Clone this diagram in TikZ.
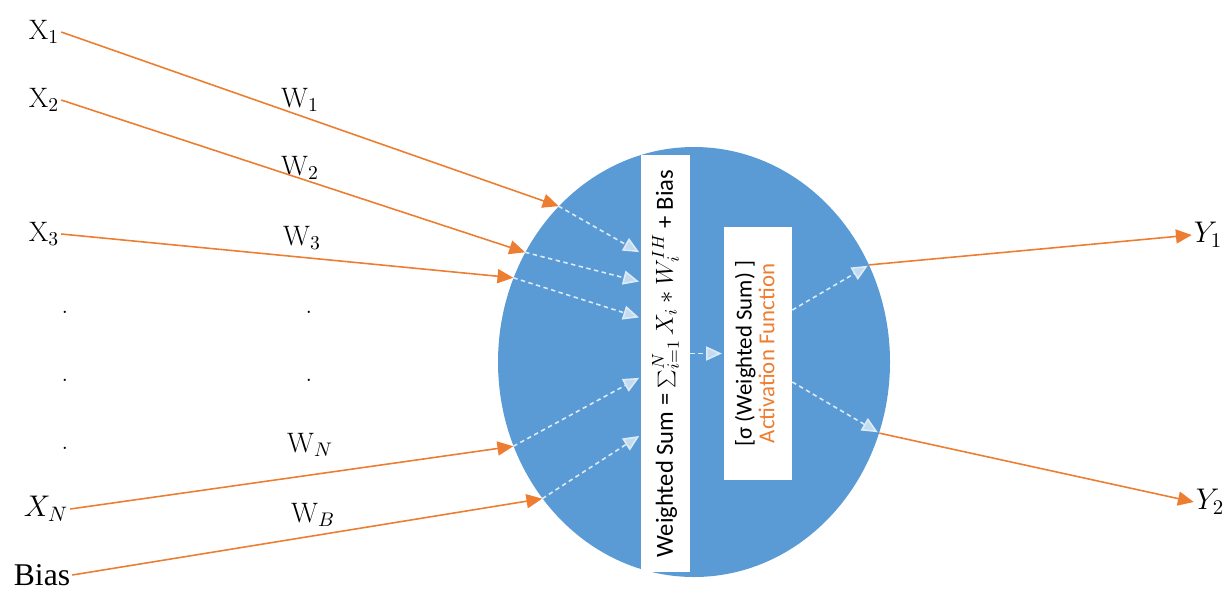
\RequirePackage{fix-cm}
\documentclass[tikz,border=0pt]{standalone}
\usepackage{fontspec}
\setsansfont{Carlito}
\newfontfamily\biasfont{Liberation Serif}
\usetikzlibrary{arrows.meta,calc,shapes.geometric}

\definecolor{neuronblue}{HTML}{5B9BD5}
\definecolor{wireorange}{HTML}{ED7D31}
\definecolor{flowwhite}{HTML}{DDEBF7}

\tikzset{
  wire/.style={draw=wireorange, line width=0.9pt,
    -{Triangle[length=9pt,width=8pt]}},
  flow/.style={draw=flowwhite, line width=0.9pt, dash pattern=on 2.5pt off 2pt,
    -{Triangle[length=9pt,width=8pt,fill=flowwhite!80!neuronblue]}, shorten >=1pt},
  whitebox/.style={fill=white, inner sep=0pt},
  inlabel/.style={inner sep=1pt, font=\fontsize{16}{18}\selectfont},
  biglabel/.style={inner sep=1pt, font=\fontsize{17}{19}\selectfont},
}

\begin{document}
\begin{tikzpicture}
\useasboundingbox (0,0) rectangle (24.46,-11.8);

% neuron body
\node[ellipse, fill=neuronblue, minimum width=7.84cm, minimum height=8.6cm, inner sep=0pt]
  (neuron) at (13.88,-7.24) {};

% inputs
\node[inlabel] (x1) at (0.88,-0.64) {$\mathrm{X}_1$};
\node[inlabel] (x2) at (0.88,-2.0) {$\mathrm{X}_2$};
\node[inlabel] (x3) at (0.88,-4.68) {$\mathrm{X}_3$};
\node[biglabel] (xn) at (0.92,-10.18) {$X_N$};
\node[inlabel, font=\biasfont\fontsize{18}{20}\selectfont] (bias) at (0.84,-11.5) {Bias};
\foreach \y in {-6.24,-7.6,-8.96}
  \node[inlabel] at (1.3,\y) {.};

% weights
\node[inlabel] (w1) at (6.0,-2.0) {$\mathrm{W}_1$};
\node[inlabel] (w2) at (6.0,-3.36) {$\mathrm{W}_2$};
\node[inlabel] (w3) at (6.04,-4.76) {$\mathrm{W}_3$};
\node[inlabel] (wn) at (6.2,-8.9) {$\mathrm{W}_N$};
\node[inlabel] (wb) at (6.26,-10.3) {$\mathrm{W}_B$};
\foreach \y in {-6.24,-7.6}
  \node[inlabel] at (6.18,\y) {.};

% outputs
\node[biglabel] (y1) at (24.16,-4.7) {$Y_1$};
\node[biglabel] (y2) at (24.2,-10.04) {$Y_2$};

% points on the rim
\coordinate (in1) at (neuron.131);
\coordinate (in2) at (neuron.147.5);
\coordinate (in3) at (neuron.155);
\coordinate (inn) at (neuron.205.5);
\coordinate (inb) at (neuron.222);
\coordinate (out1) at (neuron.29);
\coordinate (out2) at (neuron.339);

\draw[wire] (x1.east) -- (in1);
\draw[wire] (x2.east) -- (in2);
\draw[wire] (x3.east) -- (in3);
\draw[wire] (xn.east) -- (inn);
\draw[wire] (bias.east) -- (inb);
\draw[wire] (out1) -- (y1.west);
\draw[wire] (out2) -- (y2.west);

% the two stages
\node[whitebox, minimum width=0.98cm, minimum height=8.34cm] (wsum) at (13.31,-7.27)
  {\rotatebox{90}{\sffamily\fontsize{14}{16}\selectfont
   Weighted Sum = $\sum_{i=1}^{N} X_i * W_i^{IH}$ + Bias}};
\node[whitebox, minimum width=1.36cm, minimum height=5.06cm] (act) at (15.16,-7.07)
  {\rotatebox{90}{\sffamily\fontsize{13}{13}\selectfont
   \begin{tabular}{@{}c@{}}[σ (Weighted Sum) ]\\ \textcolor{wireorange}{Activation Function}\end{tabular}}};

% flow inside the neuron
\foreach \i/\dy in {1/2.21,2/1.63,3/0.91,n/-0.27,b/-1.43}
  \draw[flow] (in\i) -- ($(wsum.west)+(0,\dy)$);
\draw[flow] (wsum.east |- act.west) -- (act.west);
\draw[flow] ($(act.east)+(0,0.87)$) -- (out1);
\draw[flow] ($(act.east)+(0,-0.57)$) -- (out2);
\end{tikzpicture}
\end{document}
